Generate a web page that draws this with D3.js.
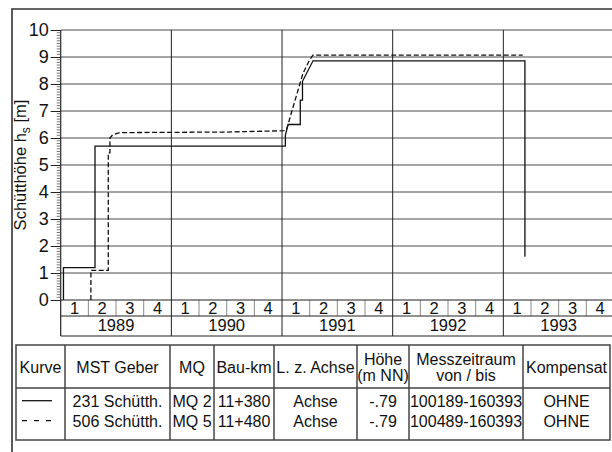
<!DOCTYPE html>
<html><head><meta charset="utf-8">
<script src="https://cdn.jsdelivr.net/npm/d3@7"></script>
<style>
body{margin:0;background:#fff}
svg{display:block}
text{font-family:"Liberation Sans",Arial,Helvetica,sans-serif;fill:#111}
</style>
</head><body>
<svg id="c" width="612" height="452"></svg>
<script>
// ---------- data ----------
const years = ["1989", "1990", "1991", "1992", "1993"];
const quarters = ["1", "2", "3", "4"];
const yTicks = [0, 1, 2, 3, 4, 5, 6, 7, 8, 9, 10];
// Kurve 1 (solid): 231 Schütth. — time in decimal years, Schütthöhe in m
const solidT = [1989.025, 1989.025, 1989.31, 1989.31, 1991.03, 1991.03, 1991.055, 1991.165, 1991.165, 1991.185, 1991.185, 1991.28, 1993.195, 1993.195];
const solidH = [0, 1.2, 1.2, 5.7, 5.7, 6.1, 6.5, 6.5, 7.4, 7.4, 8.1, 8.86, 8.86, 1.6];
// Kurve 2 (dashed): 506 Schütth.
const dashT = [1989.273, 1989.273, 1989.43, 1989.43, 1989.445, 1989.445, 1989.47, 1989.535, 1990.5, 1991.02, 1991.04, 1991.1, 1991.19, 1991.25, 1991.28, 1993.175];
const dashH = [0, 1.1, 1.1, 5.45, 5.45, 6.0, 6.12, 6.2, 6.22, 6.27, 6.3, 7.15, 8.4, 8.9, 9.07, 9.07];
// table
const tableHeader = [["Kurve"], ["MST Geber"], ["MQ"], ["Bau-km"], ["L. z. Achse"], ["Höhe", "(m NN)"], ["Messzeitraum", "von / bis"], ["Kompensat"]];
const tableKurve = ["solid", "dashed"];
const tableRows = [
  ["231 Schütth.", "MQ 2", "11+380", "Achse", "-.79", "100189-160393", "OHNE"],
  ["506 Schütth.", "MQ 5", "11+480", "Achse", "-.79", "100489-160393", "OHNE"]
];

// ---------- layout ----------
const svg = d3.select("#c");
const X0 = 60.7, X1 = 614, Ytop = 30, Y0 = 300;
const x = d3.scaleLinear().domain([1989, 1994]).range([X0, X1]);
const y = d3.scaleLinear().domain([0, 10]).range([Y0, Ytop]);
const qRowBottom = 316, yRowBottom = 336;
const dark = "#222", grid = "#4a4a4a";

// outer frame
svg.append("path").attr("d", "M12,452V9H612").attr("fill", "none").attr("stroke", "#333").attr("stroke-width", 1.6);

// horizontal gridlines
svg.append("g").selectAll("line").data(yTicks.filter(d => d > 0)).join("line")
  .attr("x1", X0).attr("x2", X1).attr("y1", d => y(d)).attr("y2", d => y(d))
  .attr("stroke", grid).attr("stroke-width", 1);

// year separators (through plot and axis rows)
const yearStarts = years.map(v => +v);
svg.append("g").selectAll("line").data(yearStarts.slice(1)).join("line")
  .attr("x1", d => x(d)).attr("x2", d => x(d)).attr("y1", Ytop).attr("y2", yRowBottom)
  .attr("stroke", dark).attr("stroke-width", 1);

// quarter separators
const qSeps = [];
yearStarts.forEach(yr => [0.25, 0.5, 0.75].forEach(f => qSeps.push(yr + f)));
svg.append("g").selectAll("line").data(qSeps).join("line")
  .attr("x1", d => x(d)).attr("x2", d => x(d)).attr("y1", Y0).attr("y2", qRowBottom)
  .attr("stroke", "#8a8a8a").attr("stroke-width", 1);

// axis row lines
[Y0, qRowBottom, yRowBottom].forEach(v => {
  svg.append("line").attr("x1", X0).attr("x2", X1).attr("y1", v).attr("y2", v)
    .attr("stroke", dark).attr("stroke-width", 1);
});
// y axis line
svg.append("line").attr("x1", X0).attr("x2", X0).attr("y1", Ytop).attr("y2", yRowBottom)
  .attr("stroke", dark).attr("stroke-width", 1.2);

// y axis ticks and labels
const yAxis = d3.axisLeft(y).tickValues(yTicks).tickSize(10).tickPadding(2).tickFormat(d3.format("d"));
const ga = svg.append("g").attr("transform", `translate(${X0},0)`).call(yAxis);
ga.select(".domain").remove();
ga.selectAll(".tick line").attr("stroke", dark);
ga.selectAll(".tick text").attr("font-size", 18).attr("font-family", "Liberation Sans, Arial, sans-serif").attr("fill", "#111");
// minor ticks every 0.1
const minor = d3.range(0, 100).map(i => i / 10).filter(v => Math.abs(v - Math.round(v)) > 1e-6);
svg.append("g").selectAll("line").data(minor).join("line")
  .attr("x1", X0 - 4).attr("x2", X0).attr("y1", d => y(d)).attr("y2", d => y(d))
  .attr("stroke", "#555").attr("stroke-width", 0.8);

// quarter labels
const qData = [];
yearStarts.forEach(yr => quarters.forEach((q, i) => qData.push({t: yr + i * 0.25 + 0.125, q})));
svg.append("g").selectAll("text").data(qData).join("text")
  .attr("x", d => x(d.t)).attr("y", (Y0 + qRowBottom) / 2 + 0.5).attr("dy", "0.35em")
  .attr("text-anchor", "middle").attr("font-size", 16.5).text(d => d.q);
// year labels
svg.append("g").selectAll("text").data(years).join("text")
  .attr("x", d => x(+d + 0.5)).attr("y", (qRowBottom + yRowBottom) / 2 - 1).attr("dy", "0.35em")
  .attr("text-anchor", "middle").attr("font-size", 16.5).text(d => d);

// y title
const yt = svg.append("text").attr("transform", `translate(25.5,${(Ytop + Y0) / 2}) rotate(-90)`)
  .attr("text-anchor", "middle").attr("font-size", 16.5);
yt.append("tspan").text("Schütthöhe h");
yt.append("tspan").attr("font-size", 12).attr("dy", 4).text("s");
yt.append("tspan").attr("dy", -4).text(" [m]");

// curves
const line = d3.line().x(d => x(d[0])).y(d => y(d[1]));
svg.append("path").datum(solidT.map((t, i) => [t, solidH[i]])).attr("d", line)
  .attr("fill", "none").attr("stroke", "#111").attr("stroke-width", 1.3);
svg.append("path").datum(dashT.map((t, i) => [t, dashH[i]])).attr("d", line)
  .attr("fill", "none").attr("stroke", "#111").attr("stroke-width", 1.3).attr("stroke-dasharray", "5,2.5");

// ---------- table ----------
const colEdges = [16, 65, 170, 214, 274, 357, 409, 523, 610];
const tTop = 345, tHeadBottom = 388, tBottom = 440;
const tStroke = "#444";
svg.append("rect").attr("x", colEdges[0]).attr("y", tTop).attr("width", colEdges[8] - colEdges[0]).attr("height", tBottom - tTop)
  .attr("fill", "none").attr("stroke", tStroke).attr("stroke-width", 1.5);
svg.append("line").attr("x1", colEdges[0]).attr("x2", colEdges[8]).attr("y1", tHeadBottom).attr("y2", tHeadBottom)
  .attr("stroke", tStroke).attr("stroke-width", 1.5);
svg.append("g").selectAll("line").data(colEdges.slice(1, 8)).join("line")
  .attr("x1", d => d).attr("x2", d => d).attr("y1", tTop).attr("y2", tBottom)
  .attr("stroke", tStroke).attr("stroke-width", 1.5);

const fs = 16;
tableHeader.forEach((lines, i) => {
  const cx = (colEdges[i] + colEdges[i + 1]) / 2;
  const cy = (tTop + tHeadBottom) / 2 + 1;
  lines.forEach((s, j) => {
    const off = lines.length === 1 ? 0 : (j === 0 ? -8.3 : 8.3);
    svg.append("text").attr("x", cx).attr("y", cy + off).attr("dy", "0.35em")
      .attr("text-anchor", "middle").attr("font-size", fs).text(s);
  });
});
const rowY = [401.7, 421.7];
tableKurve.forEach((k, r) => {
  svg.append("line").attr("x1", 22).attr("x2", 52).attr("y1", rowY[r] - 1).attr("y2", rowY[r] - 1)
    .attr("stroke", "#111").attr("stroke-width", 1.3)
    .attr("stroke-dasharray", k === "dashed" ? "5,7" : null);
});
tableRows.forEach((row, r) => {
  row.forEach((s, i) => {
    const cx = (colEdges[i + 1] + colEdges[i + 2]) / 2;
    svg.append("text").attr("x", cx).attr("y", rowY[r]).attr("dy", "0.35em")
      .attr("text-anchor", "middle").attr("font-size", fs).text(s);
  });
});
</script>
</body></html>
